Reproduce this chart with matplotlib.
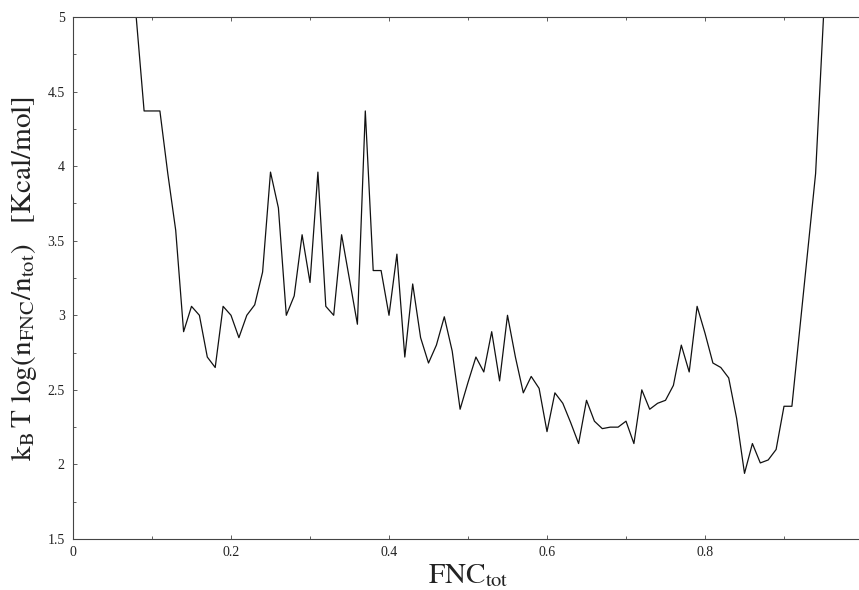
import numpy as np
import matplotlib
matplotlib.use('Agg')
import matplotlib.pyplot as plt

plt.rcParams['font.family'] = ['Liberation Serif', 'DejaVu Serif']
plt.rcParams['mathtext.fontset'] = 'stix'

# FNC_tot fraction, step 0.01 (values at 5 are off the top of the plot)
fnc = np.round(np.arange(0, 100) * 0.01, 2)
energy = [5.0, 5.0, 5.0, 5.0, 5.0, 5.0, 5.0, 5.0, 5.0, 4.37,
          4.37, 4.37, 3.95, 3.57, 2.89, 3.06, 3.00, 2.72, 2.65, 3.06,
          3.00, 2.85, 3.00, 3.07, 3.29, 3.96, 3.72, 3.00, 3.13, 3.54,
          3.22, 3.96, 3.06, 3.00, 3.54, 3.24, 2.94, 4.37, 3.30, 3.30,
          3.00, 3.41, 2.72, 3.21, 2.85, 2.68, 2.80, 2.99, 2.76, 2.37,
          2.55, 2.72, 2.62, 2.89, 2.56, 3.00, 2.72, 2.48, 2.59, 2.51,
          2.22, 2.48, 2.41, 2.28, 2.14, 2.43, 2.29, 2.24, 2.25, 2.25,
          2.29, 2.14, 2.50, 2.37, 2.41, 2.43, 2.53, 2.80, 2.62, 3.06,
          2.88, 2.68, 2.65, 2.58, 2.31, 1.94, 2.14, 2.01, 2.03, 2.10,
          2.39, 2.39, 2.91, 3.43, 3.95, 5.0, 5.0, 5.0, 5.0, 5.0]

fig = plt.figure(figsize=(8.59, 5.90), dpi=100)
ax = fig.add_axes([73/859, 51/590, 790/859, 522/590])

ax.plot(fnc, energy, color='#111111', linewidth=0.9)

ax.set_xlim(0, 1)
ax.set_ylim(1.5, 5)
ax.set_xticks([0, 0.2, 0.4, 0.6, 0.8])
ax.set_xticklabels(['0', '0.2', '0.4', '0.6', '0.8'])
ax.set_xticks([0.1, 0.3, 0.5, 0.7, 0.9], minor=True)
ax.set_yticks([1.5, 2, 2.5, 3, 3.5, 4, 4.5, 5])
ax.set_yticklabels(['1.5', '2', '2.5', '3', '3.5', '4', '4.5', '5'])
ax.set_yticks(np.arange(1.75, 5, 0.5), minor=True)
ax.tick_params(which='both', direction='in', top=True, right=True,
               labelsize=10, color='#444444', width=0.6, labelcolor='#222222')
ax.tick_params(which='major', length=3)
ax.tick_params(which='minor', length=2)
ax.tick_params(axis='x', pad=5)
ax.tick_params(axis='y', pad=6)
for s in ax.spines.values():
    s.set_color('#444444')
    s.set_linewidth(0.8)

ax.set_xlabel(r'$\mathrm{FNC}_{\mathrm{tot}}$', fontsize=21, color='#222222', labelpad=2)
ax.set_ylabel(r'$\mathrm{k}_{\mathrm{B}}\,\mathrm{T}\ \mathrm{log}(\mathrm{n}_{\mathrm{FNC}}/\mathrm{n}_{\mathrm{tot}})\quad[\mathrm{Kcal/mol}]$',
              fontsize=21, color='#222222', labelpad=6)

fig.savefig('out.png', dpi=100)
